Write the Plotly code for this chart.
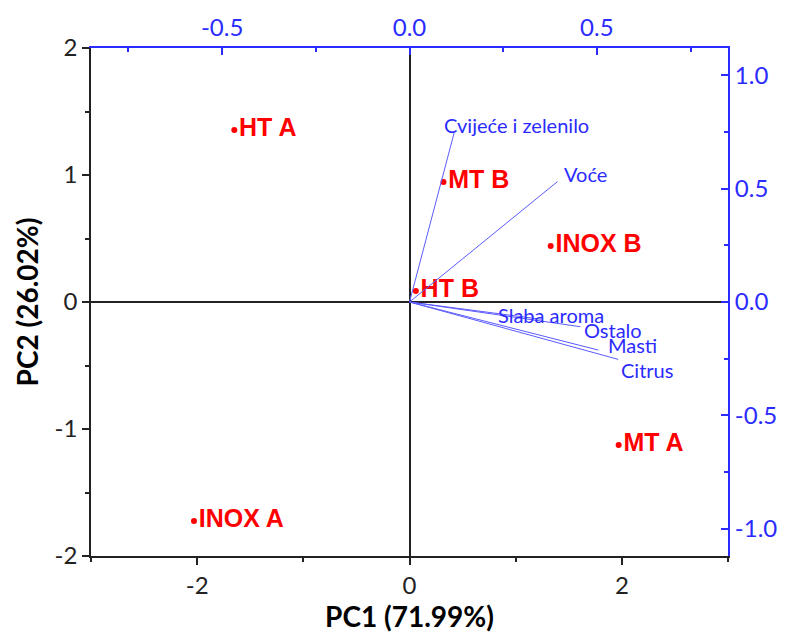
import plotly.graph_objects as go

# Scores (samples)
sample_names = ["HT A", "MT B", "INOX B", "HT B", "MT A", "INOX A"]
pc1_scores = [-1.65, 0.32, 1.33, 0.06, 1.97, -2.03]
pc2_scores = [1.354, 0.945, 0.44, 0.087, -1.126, -1.724]

# Loadings (variables)
var_names = ["Cvijeće i zelenilo", "Voće", "Slaba aroma", "Ostalo", "Masti", "Citrus"]
pc1_load = [0.119, 0.395, 0.351, 0.456, 0.504, 0.557]
pc2_load = [0.745, 0.531, -0.076, -0.109, -0.212, -0.253]

# Tick values and labels
x_tickvals = [-2, 0, 2]
x_ticklabels = ["-2", "0", "2"]
y_tickvals = [-2, -1, 0, 1, 2]
y_ticklabels = ["-2", "-1", "0", "1", "2"]
x2_tickvals = [-0.5, 0.0, 0.5]
x2_ticklabels = ["-0.5", "0.0", "0.5"]
y2_tickvals = [-1.0, -0.5, 0.0, 0.5, 1.0]
y2_ticklabels = ["-1.0", "-0.5", "0.0", "0.5", "1.0"]

# label offsets (pixels) for loading labels
lab_xshift = [-12, 4, -45, 2, 8, 1]
lab_yshift = [8, 8, 4, -3, 5, -11]

BLUE = "#2b2bff"
LINEBLUE = "#5b5bff"
RED = "#ff0000"
AX = "#222222"

fig = go.Figure()

for name, lx, ly in zip(var_names, pc1_load, pc2_load):
    fig.add_trace(go.Scatter(x=[0, lx], y=[0, ly], xaxis="x2", yaxis="y2",
                             mode="lines", line=dict(color=LINEBLUE, width=1),
                             hoverinfo="skip", showlegend=False))

fig.add_trace(go.Scatter(x=pc1_scores, y=pc2_scores, mode="markers+text",
                         text=sample_names, textposition="middle right",
                         marker=dict(color=RED, size=6),
                         textfont=dict(family="Liberation Sans", size=25, color=RED, weight="bold"),
                         showlegend=False))

for name, lx, ly, xs, ys in zip(var_names, pc1_load, pc2_load, lab_xshift, lab_yshift):
    fig.add_annotation(x=lx, y=ly, xref="x2", yref="y2", text=name, showarrow=False,
                       xanchor="left", yanchor="middle", xshift=xs, yshift=ys,
                       font=dict(family="Lato", size=20, color=BLUE))

fig.update_layout(
    width=789, height=637,
    margin=dict(l=91, r=52, t=48, b=81),
    paper_bgcolor="white", plot_bgcolor="white",
    font=dict(family="Lato", size=24, color="black"),
    xaxis=dict(range=[-3, 3], tickvals=x_tickvals, ticktext=x_ticklabels, showgrid=False,
               zeroline=True, zerolinecolor=AX, zerolinewidth=1.5,
               showline=True, linecolor=AX, linewidth=1.5,
               ticks="outside", ticklen=7, tickcolor=AX, tickwidth=1.5,
               minor=dict(dtick=1, tick0=1, ticks="outside", ticklen=4, tickcolor=AX),
               title=dict(text="<b>PC1 (71.99%)</b>", font=dict(size=28), standoff=6),
               tickfont=dict(size=24, color="#222")),
    yaxis=dict(range=[-2, 2], tickvals=y_tickvals, ticktext=y_ticklabels, showgrid=False,
               zeroline=True, zerolinecolor=AX, zerolinewidth=1.5,
               showline=True, linecolor=AX, linewidth=1.5,
               ticks="outside", ticklen=7, tickcolor=AX, tickwidth=1.5,
               minor=dict(dtick=0.5, ticks="outside", ticklen=4, tickcolor=AX),
               title=dict(text="<b>PC2 (26.02%)</b>", font=dict(size=28), standoff=8),
               tickfont=dict(size=24, color="#222")),
    xaxis2=dict(range=[-0.85, 0.85], tickvals=x2_tickvals, ticktext=x2_ticklabels,
                overlaying="x", side="top", anchor="y", showgrid=False, zeroline=False,
                showline=True, linecolor=BLUE, linewidth=2,
                ticks="inside", ticklen=7, tickcolor=BLUE, tickwidth=1.5,
                minor=dict(dtick=0.25, tick0=0.25, ticks="inside", ticklen=4, tickcolor=BLUE),
                tickfont=dict(size=24, color=BLUE)),
    yaxis2=dict(range=[-1.12, 1.12], tickvals=y2_tickvals, ticktext=y2_ticklabels,
                overlaying="y", side="right", anchor="x", showgrid=False, zeroline=False,
                showline=True, linecolor=BLUE, linewidth=2,
                ticks="inside", ticklen=7, tickcolor=BLUE, tickwidth=1.5,
                minor=dict(dtick=0.25, tick0=0.25, ticks="inside", ticklen=4, tickcolor=BLUE),
                tickfont=dict(size=24, color=BLUE)),
)

fig.write_html("out.html", config={"displayModeBar": False},
               post_script="document.body.style.margin='0px';document.body.style.overflow='hidden';")
